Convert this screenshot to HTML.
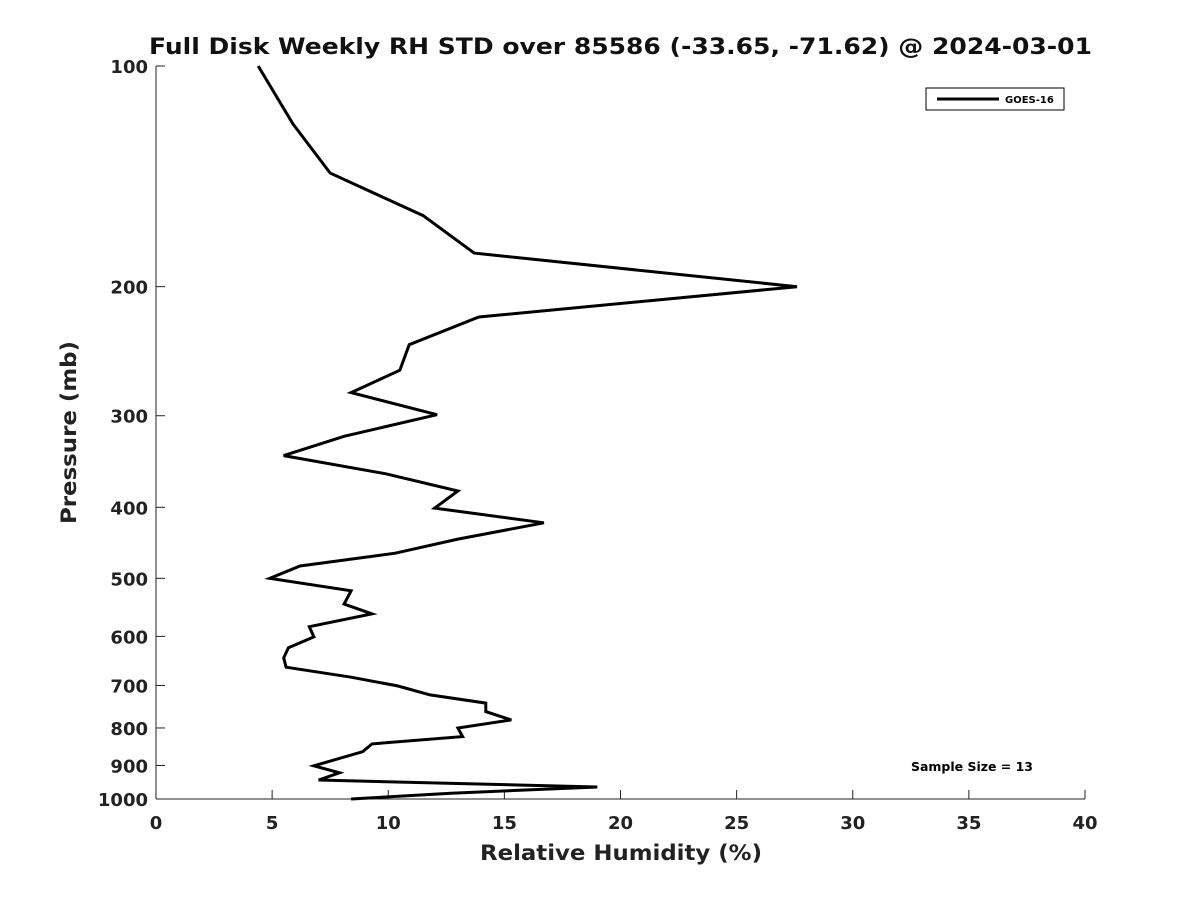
<!DOCTYPE html>
<html><head><meta charset="utf-8"><style>
html,body{margin:0;padding:0;background:#fff;}
svg{display:block;font-family:"DejaVu Sans","Liberation Sans",sans-serif;}
</style></head><body>
<svg id="chart" width="1200" height="900" viewBox="0 0 1200 900">
<rect width="1200" height="900" fill="#fff"/>
<text x="149" y="54" textLength="943" lengthAdjust="spacingAndGlyphs" font-size="22" font-weight="bold" fill="#111">Full Disk Weekly RH STD over 85586 (-33.65, -71.62) @ 2024-03-01</text>
<g id="axes"></g>
<g id="series"></g>
<g>
<rect x="926" y="88" width="138" height="22" fill="#fff" stroke="#000" stroke-width="1"/>
<line x1="937" y1="99" x2="999" y2="99" stroke="#000" stroke-width="3"/>
<text x="1005" y="103" font-size="10" font-weight="bold" fill="#000">GOES-16</text>
</g>
<text x="911" y="771" textLength="122" lengthAdjust="spacingAndGlyphs" font-size="12" font-weight="bold" fill="#000">Sample Size = 13</text>
<text x="480" y="860" textLength="282" lengthAdjust="spacingAndGlyphs" font-size="21" font-weight="bold" fill="#222">Relative Humidity (%)</text>
<text transform="translate(76,524) rotate(-90)" textLength="183" lengthAdjust="spacingAndGlyphs" font-size="21" font-weight="bold" fill="#222">Pressure (mb)</text>
</svg>
<script>
const pressure=[100,120,140,160,180,200,220,240,260,279,299,320,340,360,380,401,420,442,462,481,500,520,542,559,582,601,622,642,661,682,701,721,740,760,780,800,822,841,862,901,921,942,963,982,1000];
const rh=[4.4,5.9,7.5,11.5,13.7,27.6,13.9,10.9,10.5,8.4,12.1,8.1,5.5,9.9,13.0,12.0,16.7,13.0,10.3,6.2,4.9,8.4,8.1,9.3,6.6,6.8,5.7,5.5,5.6,8.4,10.4,11.8,14.2,14.2,15.3,13.0,13.2,9.3,8.9,6.8,7.9,7.0,19.0,12.7,8.4];
const xTicks=[0,5,10,15,20,25,30,35,40];
const yTicks=[100,200,300,400,500,600,700,800,900,1000];
const L=156,R=1085,T=66,B=799;
const xs=v=>L+(v-0)/(40-0)*(R-L);
const ys=p=>T+(Math.log10(p)-2)*(B-T);
const NS="http://www.w3.org/2000/svg";
const axes=document.getElementById('axes');
function mk(tag,attrs,parent){const e=document.createElementNS(NS,tag);for(const k in attrs)e.setAttribute(k,attrs[k]);parent.appendChild(e);return e;}
const xl=mk('line',{x1:L,y1:B,x2:R,y2:B,stroke:'#222','stroke-width':1},axes);


const yl=mk('line',{x1:L,y1:T,x2:L,y2:B,stroke:'#222','stroke-width':1},axes);


xTicks.forEach(v=>{
  mk('line',{x1:xs(v),y1:B,x2:xs(v),y2:B-9,stroke:'#222'},axes);
  const t=mk('text',{x:xs(v),y:B+30,'text-anchor':'middle','font-size':18,'font-weight':'bold',fill:'#222'},axes);
  t.textContent=v;
  
  
});
yTicks.forEach(p=>{
  mk('line',{x1:L,y1:ys(p),x2:L+9,y2:ys(p),stroke:'#222'},axes);
  const t=mk('text',{x:L-8,y:ys(p)+7,'text-anchor':'end','font-size':18,'font-weight':'bold',fill:'#222'},axes);
  t.textContent=p;
  
  
});
const pts=pressure.map((p,i)=>xs(rh[i]).toFixed(1)+','+ys(p).toFixed(1)).join(' ');
const line=mk('polyline',{points:pts,fill:'none',stroke:'#000','stroke-width':3,'stroke-linejoin':'miter'},document.getElementById('series'));


</script>
</body></html>
